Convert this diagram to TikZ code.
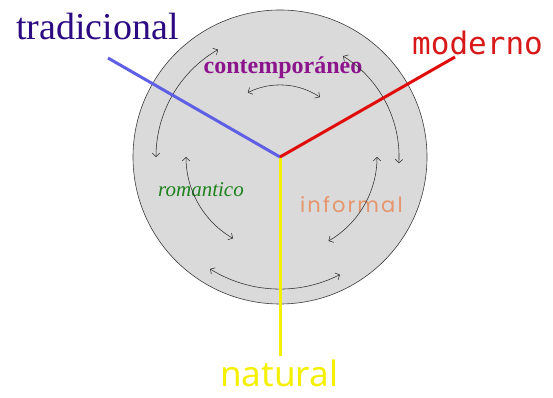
\documentclass[tikz,border=0pt]{standalone}
\usepackage{fontspec}
\setmainfont{Liberation Serif}
\newfontfamily\modfam{DejaVu Sans Mono}
\newfontfamily\natfam{Noto Sans}
\newfontfamily\infam[LetterSpace=10]{Poppins}
\usetikzlibrary{arrows.meta}
\definecolor{diskfill}{RGB}{218,218,218}
\definecolor{diskline}{RGB}{60,60,60}
\definecolor{arrowgray}{RGB}{45,45,45}
\definecolor{tradcol}{RGB}{45,10,130}
\definecolor{modcol}{RGB}{215,25,25}
\definecolor{natcol}{RGB}{245,240,0}
\definecolor{concol}{RGB}{140,20,140}
\definecolor{romcol}{RGB}{30,130,30}
\definecolor{infcol}{RGB}{230,150,110}
\definecolor{raybluecol}{RGB}{95,95,230}
\definecolor{rayredcol}{RGB}{225,10,10}
\definecolor{rayyelcol}{RGB}{245,240,0}
\begin{document}
\begin{tikzpicture}[x=1pt,y=1pt,
  cyc/.style={draw=arrowgray, line width=0.55pt,
    {Straight Barb[length=3.5pt,width=7.5pt]}-{Straight Barb[length=3.5pt,width=7.5pt]}},
  ray/.style={line width=3pt},
  lbl/.style={inner sep=0pt, anchor=base west}]
\useasboundingbox (0,0) rectangle (553,398);
\coordinate (O) at (280,241);
\node[circle, draw=diskline, fill=diskfill, line width=0.6pt,
      minimum size=294pt, inner sep=0pt] (disk) at (O) {};

% labels
\node[lbl, text=tradcol, font=\fontsize{38}{40}\selectfont] (trad) at (16,358) {tradicional};
\node[lbl, text=modcol, font=\modfam\fontsize{31}{33}\selectfont] (mod) at (412,343) {moderno};
\node[lbl, text=natcol, font=\natfam\fontsize{35}{37}\selectfont] (nat) at (220,11) {natural};
\node[inner sep=0pt, anchor=base, text=concol, font=\bfseries\fontsize{24}{26}\selectfont] (con) at (283,324) {contemporáneo};
\node[lbl, text=romcol, font=\itshape\fontsize{21}{23}\selectfont] (rom) at (158,201) {romantico};
\node[lbl, text=infcol, font=\infam\fontsize{21}{23}\selectfont] (inf) at (300,185) {informal};

% cyclic arrows
\path (O) ++(120:124) coordinate (a1);
\draw[cyc] (a1) arc[start angle=120, end angle=180, radius=124];
\path (O) ++(116.6:72) coordinate (a2);
\draw[cyc] (a2) arc[start angle=116.6, end angle=56.3, radius=72];
\path (O) ++(58:119) coordinate (a3);
\draw[cyc] (a3) arc[start angle=58, end angle=-3, radius=119];
\path (O) ++(180:94) coordinate (a4);
\draw[cyc] (a4) arc[start angle=180, end angle=240, radius=94];
\path (O) ++(0:97) coordinate (a5);
\draw[cyc] (a5) arc[start angle=0, end angle=-60, radius=97];
\path (O) ++(238:132) coordinate (a6);
\draw[cyc] (a6) arc[start angle=238, end angle=297, radius=132];

% rays
\coordinate (tb) at (108,340);
\coordinate (rb) at (455,341);
\coordinate (yb) at (280,42);
\draw[ray, rayyelcol] (O) -- (yb);
\draw[ray, raybluecol] (O) -- (tb);
\draw[ray, rayredcol] (O) -- (rb);
\end{tikzpicture}
\end{document}
